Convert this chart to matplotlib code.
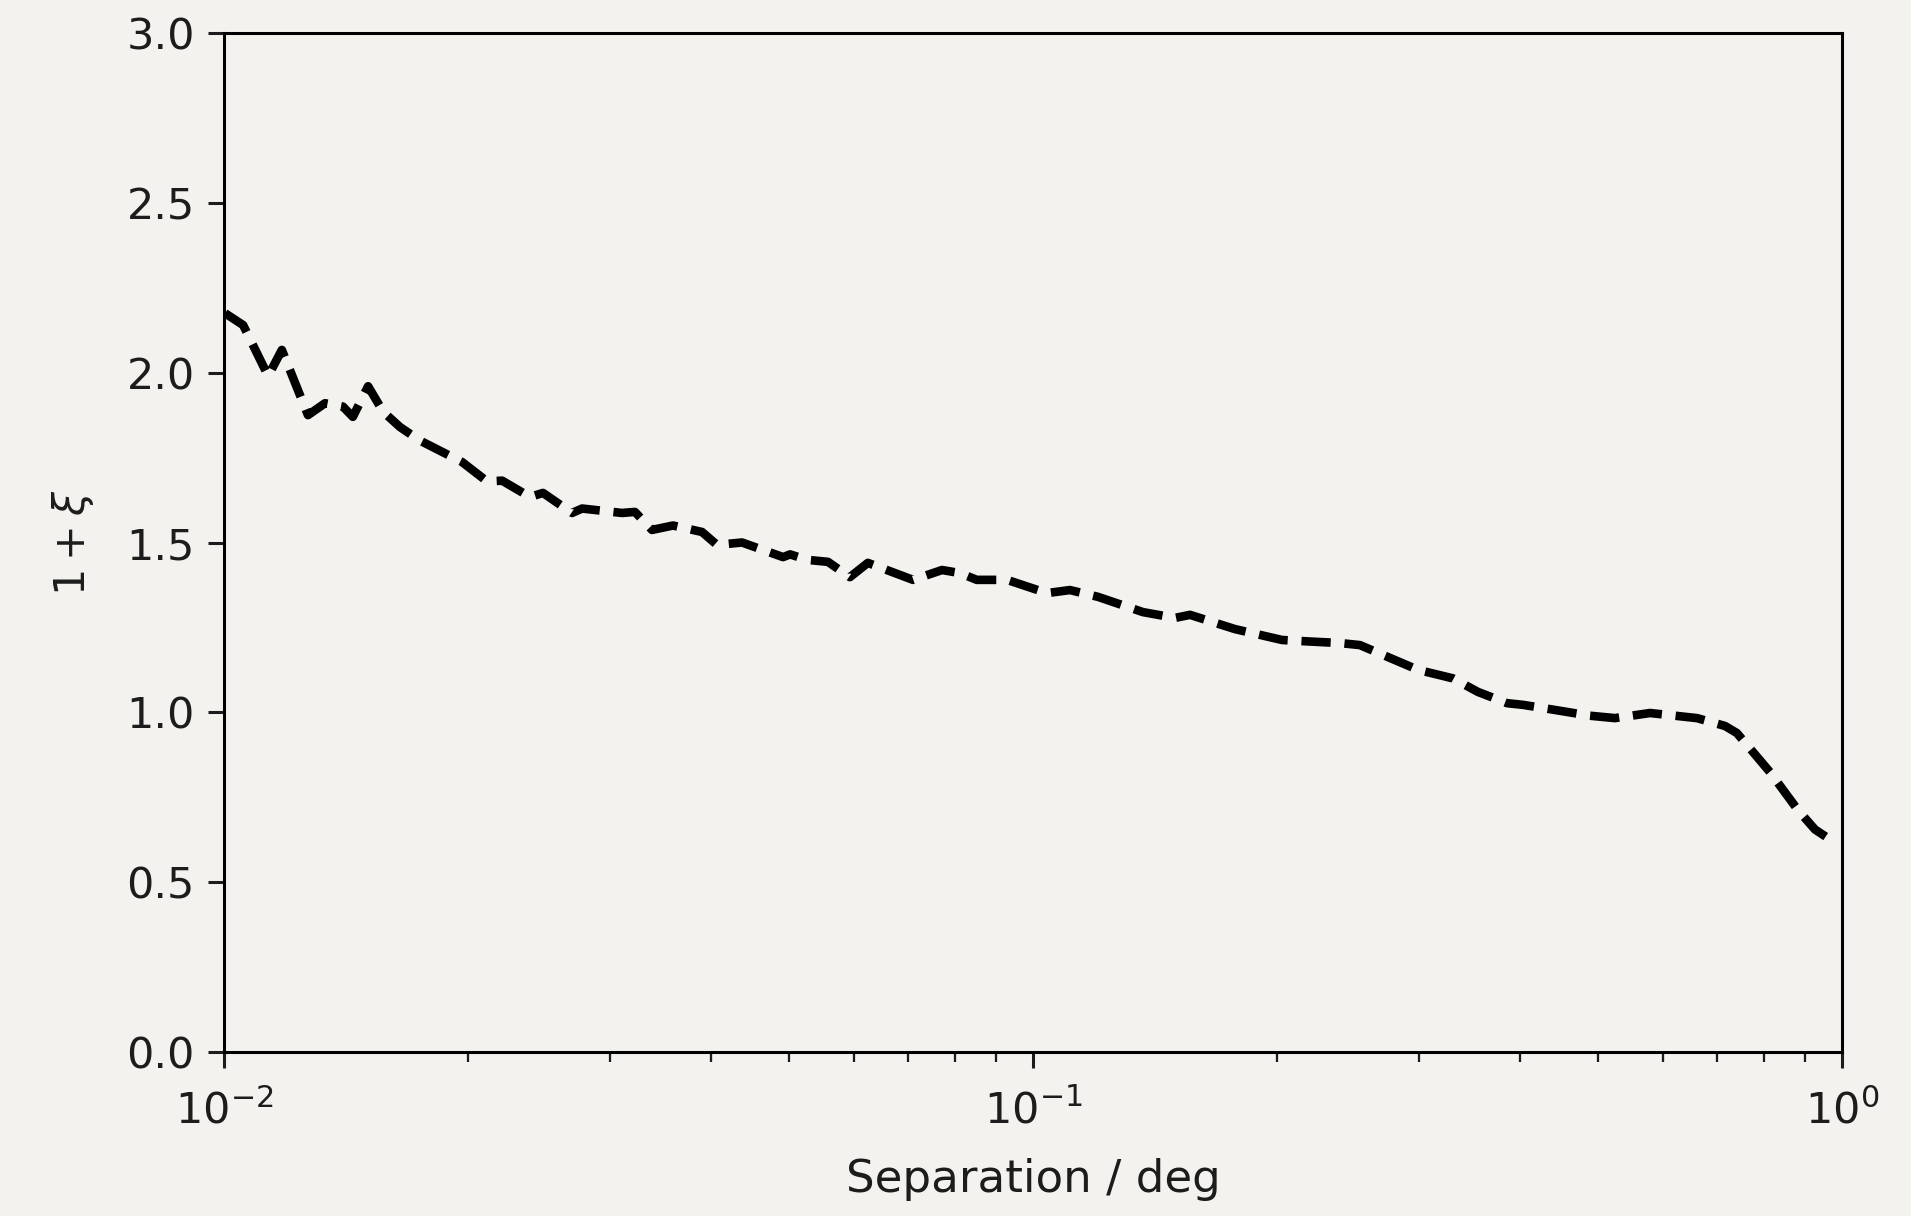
import numpy as np
import matplotlib
matplotlib.use("Agg")
import matplotlib.pyplot as plt

# separation (deg) and 1 + xi
sep = [0.01003, 0.01056, 0.01134, 0.01179, 0.01270, 0.01333, 0.01403, 0.01443,
       0.01507, 0.01573, 0.01650, 0.01747, 0.01969, 0.02114, 0.02207, 0.02389,
       0.02479, 0.02693, 0.02771, 0.03104, 0.03221, 0.03381, 0.03589, 0.03898,
       0.04068, 0.04368, 0.04910, 0.05009, 0.05256, 0.05579, 0.05938, 0.06250,
       0.07107, 0.07719, 0.08122, 0.08521, 0.09287, 0.10406, 0.11109, 0.12031,
       0.13677, 0.14983, 0.15634, 0.17772, 0.20316, 0.21379, 0.23955, 0.25355,
       0.29917, 0.33043, 0.35487, 0.38544, 0.40339, 0.44180, 0.48810, 0.52408,
       0.57903, 0.66181, 0.71659, 0.74147, 0.81470, 0.88232, 0.92608, 0.97749]
one_plus_xi = [2.175, 2.140, 1.990, 2.067, 1.875, 1.910, 1.900, 1.870,
               1.960, 1.885, 1.840, 1.800, 1.737, 1.680, 1.682, 1.634,
               1.646, 1.587, 1.600, 1.587, 1.590, 1.537, 1.550, 1.531,
               1.493, 1.500, 1.457, 1.465, 1.449, 1.443, 1.398, 1.440,
               1.390, 1.419, 1.410, 1.390, 1.390, 1.351, 1.360, 1.340,
               1.295, 1.278, 1.287, 1.245, 1.213, 1.210, 1.204, 1.198,
               1.125, 1.100, 1.060, 1.027, 1.022, 1.007, 0.990, 0.983,
               0.998, 0.983, 0.960, 0.939, 0.824, 0.712, 0.655, 0.618]

k = 2.74  # scale from default sizes
bg = "#f3f2ef"
txt = "#1c1c1c"

plt.rcParams["font.size"] = 31
plt.rcParams["axes.linewidth"] = 0.8 * k
plt.rcParams["xtick.major.width"] = 0.8 * k
plt.rcParams["ytick.major.width"] = 0.8 * k
plt.rcParams["xtick.minor.width"] = 0.6 * k
plt.rcParams["xtick.major.size"] = 11.5
plt.rcParams["ytick.major.size"] = 11.5
plt.rcParams["xtick.minor.size"] = 7
plt.rcParams["xtick.major.pad"] = 16
plt.rcParams["ytick.major.pad"] = 3.5 * k

fig = plt.figure(figsize=(19.11, 12.16), dpi=100, facecolor=bg)
ax = fig.add_axes([224/1911, 1 - 1052/1216, (1842-224)/1911, (1052-33)/1216])
ax.set_facecolor(bg)

ax.plot(sep, one_plus_xi, color="black", linestyle=(0, (3.4, 1.6)), linewidth=6.2)

ax.set_xscale("log")
ax.set_xlim(1e-2, 1)
ax.set_ylim(0, 3)
ax.set_yticks([0.0, 0.5, 1.0, 1.5, 2.0, 2.5, 3.0])
ax.set_xlabel("Separation / deg", color=txt, fontsize=32.5, labelpad=18)
ax.set_ylabel(r"$1 + \xi$", color=txt, labelpad=22)
ax.tick_params(colors=txt, which="both")

fig.savefig("out.png", dpi=100, facecolor=bg)
